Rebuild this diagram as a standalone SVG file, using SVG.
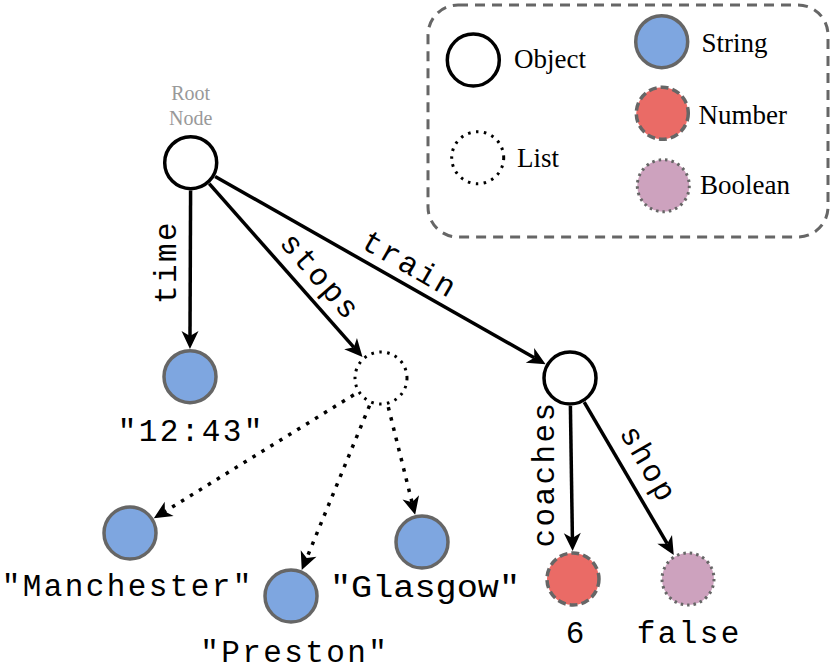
<svg xmlns="http://www.w3.org/2000/svg" width="830" height="672" viewBox="0 0 830 672">
<style>
.obj{fill:#fff;stroke:#000;stroke-width:3.5}
.lst{fill:#fff;stroke:#000;stroke-width:3;stroke-dasharray:2.5 5.5}
.str{fill:#7ea6e0;stroke:#666;stroke-width:3.5}
.num{fill:#ea6b66;stroke:#666;stroke-width:3.5;stroke-dasharray:8 4}
.bool{fill:#cda2be;stroke:#666;stroke-width:3;stroke-dasharray:2.5 4}
.edge{stroke:#000;stroke-width:3.5;fill:none;marker-end:url(#arr)}
.dot{stroke:#000;stroke-width:3.5;fill:none;stroke-dasharray:3.5 7;marker-end:url(#arr)}
.mono{font-family:"Liberation Mono","Courier New",monospace;font-size:31px;letter-spacing:2.4px;fill:#000}
.serif{font-family:"Liberation Serif","Times New Roman",serif;font-size:27px;fill:#000}
</style>
<defs>
<marker id="arr" markerUnits="userSpaceOnUse" markerWidth="40" markerHeight="40" viewBox="-10 -20 40 40" refX="0" refY="0" orient="auto">
<path d="M13,0 L-5,-8.5 L0,0 L-5,8.5 Z" fill="#000"/>
</marker>
</defs>
<g id="legend">
<rect x="428" y="5" width="400" height="232" rx="30" fill="none" stroke="#666" stroke-width="3" stroke-dasharray="10 7"/>
<circle class="obj" cx="473.3" cy="60" r="26"/>
<text class="serif" x="514" y="68">Object</text>
<circle class="lst" cx="477.7" cy="157.7" r="26"/>
<text class="serif" x="517" y="167">List</text>
<circle class="str" cx="661.7" cy="41.7" r="26"/>
<text class="serif" x="701.5" y="52">String</text>
<circle class="num" cx="662.3" cy="113.3" r="26"/>
<text class="serif" x="698.5" y="123.5">Number</text>
<circle class="bool" cx="663.3" cy="185.7" r="26"/>
<text class="serif" x="700" y="193.5">Boolean</text>
</g>
<g id="connectors">
<path class="edge" d="M190.6,190.5 L190,336"/>
<path class="edge" d="M209.2,183.7 L353.9,347.3"/>
<path class="edge" d="M215.1,176.5 L534.3,357.8"/>
<path class="edge" d="M570.4,406 L572.4,538"/>
<path class="edge" d="M584.2,402.1 L667.2,543.7"/>
<path class="dot" d="M353.8,394.8 L164.9,511.5"/>
<path class="dot" d="M369.5,405.7 L306.7,558.1"/>
<path class="dot" d="M388.3,407.1 L412,502.2"/>
<text class="mono" transform="translate(176,262) rotate(-90)" text-anchor="middle">time</text>
<text class="mono" transform="translate(313,283) rotate(49)" text-anchor="middle">stops</text>
<text class="mono" transform="translate(405,273) rotate(30)" text-anchor="middle">train</text>
<text class="mono" transform="translate(554,474) rotate(-90)" text-anchor="middle">coaches</text>
<text class="mono" transform="translate(640,469) rotate(60)" text-anchor="middle">shop</text>
</g>
<g id="root">
<circle class="obj" cx="190.7" cy="162.7" r="26"/>
<text x="190.7" y="100" text-anchor="middle" font-family="Liberation Serif, Times New Roman, serif" font-size="20" fill="#999">Root</text>
<text x="190.7" y="125" text-anchor="middle" font-family="Liberation Serif, Times New Roman, serif" font-size="20" fill="#999">Node</text>
</g>
<g id="time-value">
<circle class="str" cx="190" cy="376.7" r="26"/>
<text class="mono" x="191.2" y="441" text-anchor="middle">"12:43"</text>
</g>
<g id="stops-list">
<circle class="lst" cx="381" cy="378" r="26"/>
</g>
<g id="manchester">
<circle class="str" cx="130" cy="533" r="26"/>
<text class="mono" x="127.7" y="596" text-anchor="middle">"Manchester"</text>
</g>
<g id="preston">
<circle class="str" cx="291" cy="596" r="26"/>
<text class="mono" x="294.7" y="662" text-anchor="middle">"Preston"</text>
</g>
<g id="glasgow">
<circle class="str" cx="422" cy="542" r="26"/>
<text class="mono" x="425" y="597" text-anchor="middle" textLength="190" lengthAdjust="spacingAndGlyphs" style="letter-spacing:0">"Glasgow"</text>
</g>
<g id="train">
<circle class="obj" cx="570" cy="378" r="26"/>
</g>
<g id="coaches-value">
<circle class="num" cx="573" cy="579" r="26"/>
<text class="mono" x="576.2" y="643" text-anchor="middle">6</text>
</g>
<g id="shop-value">
<circle class="bool" cx="688" cy="579" r="26"/>
<text class="mono" x="689.2" y="643" text-anchor="middle">false</text>
</g>
</svg>
